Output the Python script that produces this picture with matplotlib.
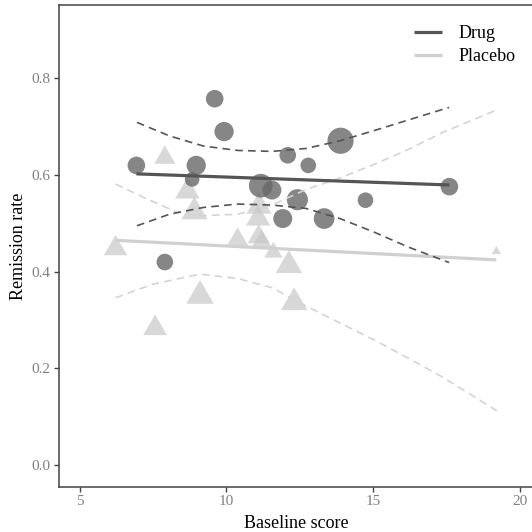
import numpy as np
import matplotlib
matplotlib.use("Agg")
import matplotlib.pyplot as plt

plt.rcParams['font.family'] = ['Liberation Serif', 'DejaVu Serif']

# --- data ---
drug_x = [6.93, 9.60, 9.92, 8.97, 8.83, 7.90, 12.09, 12.79, 13.89, 11.17, 11.55, 12.42, 11.92, 13.33, 14.74, 17.60]
drug_y = [0.620, 0.758, 0.690, 0.620, 0.591, 0.420, 0.641, 0.620, 0.671, 0.578, 0.569, 0.549, 0.510, 0.510, 0.548, 0.576]
drug_size = [17.6, 17.6, 19.3, 19.3, 14.6, 16.6, 16.6, 15.6, 26.2, 23.7, 19.0, 21.1, 19.0, 20.7, 15.6, 17.6]

plac_x = [7.90, 8.67, 8.91, 6.22, 10.38, 11.11, 11.08, 11.10, 11.20, 11.60, 12.13, 9.10, 12.31, 7.57, 19.20]
plac_y = [0.636, 0.566, 0.524, 0.448, 0.465, 0.535, 0.510, 0.472, 0.461, 0.440, 0.413, 0.350, 0.336, 0.283, 0.442]
plac_size = [21.1, 24.4, 26.2, 23.4, 22.4, 25.1, 24.4, 22.1, 21.4, 18.3, 26.5, 27.5, 26.2, 23.7, 9.5]

# fitted lines (end points)
drug_fit_x = [6.93, 17.60]
drug_fit_y = [0.6025, 0.5795]
plac_fit_x = [6.22, 19.20]
plac_fit_y = [0.465, 0.4245]

# confidence bands
drug_ci_x = [6.95, 8.06, 9.22, 10.38, 11.55, 12.71, 13.87, 15.03, 16.20, 17.59]
drug_ci_hi = [0.709, 0.681, 0.660, 0.651, 0.649, 0.655, 0.671, 0.692, 0.714, 0.740]
drug_ci_lo = [0.495, 0.519, 0.533, 0.540, 0.538, 0.531, 0.510, 0.482, 0.451, 0.419]

plac_hi_x = [6.22, 7.24, 8.29, 9.22, 10.38, 11.55, 12.71, 13.87, 15.03, 16.20, 17.36, 19.22]
plac_ci_hi = [0.5815, 0.552, 0.524, 0.516, 0.519, 0.538, 0.570, 0.594, 0.622, 0.653, 0.688, 0.735]
plac_lo_x = [6.22, 7.48, 9.10, 10.38, 11.55, 12.71, 13.87, 15.03, 16.20, 17.36, 19.22]
plac_ci_lo = [0.346, 0.374, 0.395, 0.386, 0.367, 0.329, 0.294, 0.259, 0.221, 0.182, 0.112]

dark = '#555555'
light = '#d0d0d0'

fig = plt.figure(figsize=(5.32, 5.32), dpi=100)
ax = fig.add_axes([59 / 532, 45.3 / 532, 474 / 532, 481.7 / 532])

# equilateral triangle marker centred on its centroid
tri = [(-1, -0.577), (1, -0.577), (0, 1.155)]

ax.scatter(plac_x, plac_y, s=[(w * 0.72 / 0.866) ** 2 for w in plac_size],
           marker=tri, color='#c8c8c8', alpha=0.7, linewidths=0, zorder=2)
ax.scatter(drug_x, drug_y, s=[(d * 0.72) ** 2 for d in drug_size],
           marker='o', color='#686868', alpha=0.8, linewidths=0, zorder=3)

dash = (4.6, 3.1)
ax.plot(plac_hi_x, plac_ci_hi, color='#d4d4d4', lw=1.2, dashes=dash, zorder=4)
ax.plot(plac_lo_x, plac_ci_lo, color='#d4d4d4', lw=1.2, dashes=dash, zorder=4)
ax.plot(drug_ci_x, drug_ci_hi, color=dark, lw=1.2, dashes=dash, zorder=5)
ax.plot(drug_ci_x, drug_ci_lo, color=dark, lw=1.2, dashes=dash, zorder=5)

ax.plot(plac_fit_x, plac_fit_y, color=light, lw=2.3, solid_capstyle='butt', label='Placebo', zorder=4)
ax.plot(drug_fit_x, drug_fit_y, color=dark, lw=2.3, solid_capstyle='butt', label='Drug', zorder=5)

ax.set_xlim(4.293, 20.45)
ax.set_ylim(-0.045, 0.952)
ax.set_xticks([5, 10, 15, 20])
ax.set_yticks([0.0, 0.2, 0.4, 0.6, 0.8])
ax.set_yticklabels(['0.0', '0.2', '0.4', '0.6', '0.8'])

for sp in ax.spines.values():
    sp.set_color('#444444')
    sp.set_linewidth(1.1)
ax.tick_params(direction='out', length=3.5, width=1.0, color='#444444',
               labelcolor='#808080', labelsize=11, pad=2.5)

ax.set_xlabel('Baseline score', fontsize=13, labelpad=5)
ax.set_ylabel('Remission rate', fontsize=13, labelpad=3.5)

h, l = ax.get_legend_handles_labels()
ax.legend(h[::-1], l[::-1], loc='upper right', bbox_to_anchor=(0.987, 0.981),
          frameon=False, fontsize=13, handlelength=1.55, handletextpad=0.95,
          labelspacing=0.33, borderaxespad=0.2)

fig.savefig('out.png', dpi=100)
